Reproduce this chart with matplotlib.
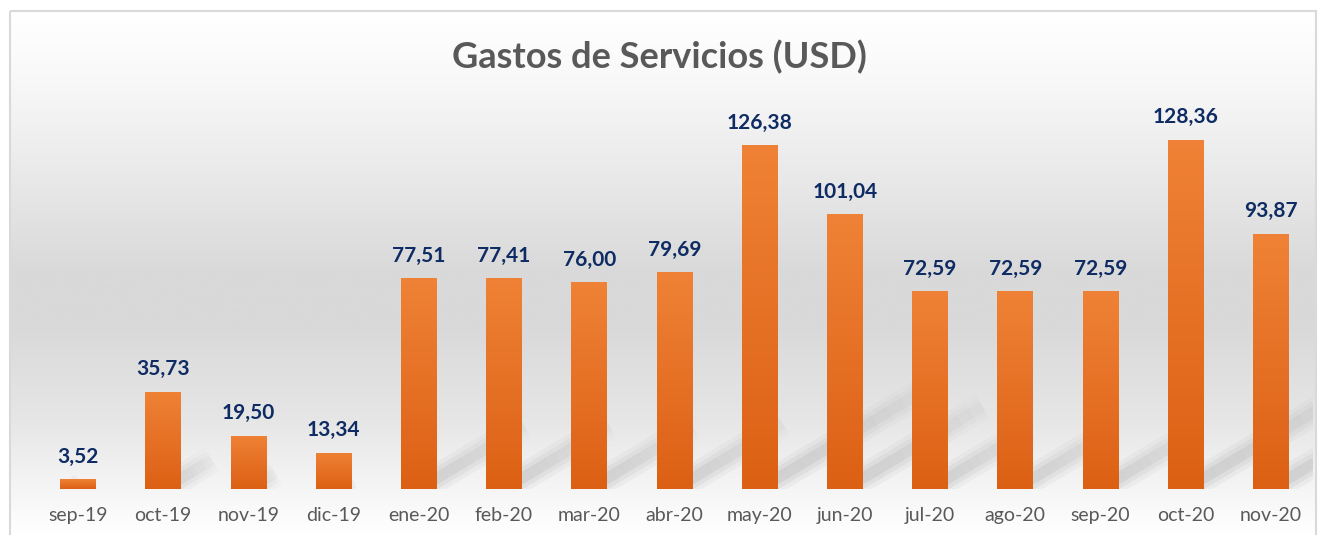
import numpy as np
import matplotlib.pyplot as plt
from matplotlib.colors import LinearSegmentedColormap
from matplotlib.patches import Rectangle

months = ['sep-19', 'oct-19', 'nov-19', 'dic-19', 'ene-20', 'feb-20', 'mar-20', 'abr-20',
          'may-20', 'jun-20', 'jul-20', 'ago-20', 'sep-20', 'oct-20', 'nov-20']
gastos = [3.52, 35.73, 19.50, 13.34, 77.51, 77.41, 76.00, 79.69,
          126.38, 101.04, 72.59, 72.59, 72.59, 128.36, 93.87]

W, H = 1325, 535
plt.rcParams['font.family'] = ['Lato', 'DejaVu Sans']

fig = plt.figure(figsize=(W / 100, H / 100), dpi=100)

# background: chart frame with vertical grey gradient
bg = fig.add_axes([0, 0, 1, 1])
bg.set_xlim(0, W)
bg.set_ylim(H, 0)
bg.axis('off')
stops = [(0.0, '#ffffff'), (0.12, '#f9f9f9'), (0.28, '#ececec'), (0.5, '#d9d9d9'),
         (0.6, '#d9d9d9'), (0.78, '#e6e6e6'), (0.92, '#f6f6f6'), (1.0, '#ffffff')]
bg_cmap = LinearSegmentedColormap.from_list('bg', stops)
grad = np.linspace(0, 1, 256).reshape(-1, 1)
bg.imshow(grad, cmap=bg_cmap, aspect='auto', extent=(10, 1316, H, 11), zorder=0)
bg.add_patch(Rectangle((10, 11), 1306, H, fill=False, edgecolor='#d9d9d9', linewidth=1.5, zorder=1))

fig.text(0.498, 1 - 57 / H, 'Gastos de Servicios (USD)', ha='center', va='center',
         fontsize=26, fontweight='bold', color='#595959')

ax = fig.add_axes([35.4 / W, 46 / H, 1278 / W, 381 / H])
ax.patch.set_alpha(0)
x = np.arange(len(months))
bars = ax.bar(x, gastos, width=0.42, color='#ED7D31', zorder=3)
ax.set_xlim(-0.5, len(months) - 0.5)
ax.set_ylim(0, 140)

# soft diagonal shadow behind each bar, fading with distance
nseg = 12
for b in bars:
    h = b.get_height()
    xc = b.get_x() + b.get_width() / 2
    dx, dy = 0.016 * h, 0.3 * h
    for i in range(nseg):
        t0, t1 = i / nseg, (i + 1) / nseg
        fade = (1 - t0) ** 0.6
        for lw, a in [(20, 0.07), (14, 0.09), (8, 0.12)]:
            ax.plot([xc + dx * t0, xc + dx * t1], [dy * t0, dy * t1], color='#6f6f6f',
                    lw=lw, alpha=a * fade, solid_capstyle='butt', zorder=2)

# orange gradient inside each bar
bar_cmap = LinearSegmentedColormap.from_list('bar', ['#DC6014', '#EF8236'])
for b in bars:
    im = ax.imshow(grad, cmap=bar_cmap, aspect='auto', origin='lower',
                   extent=(b.get_x(), b.get_x() + b.get_width(), 0, b.get_height()), zorder=4)
    im.set_clip_path(b)

for xi, v in zip(x, gastos):
    ax.annotate('{:.2f}'.format(v).replace('.', ','), (xi, v), xytext=(0, 9),
                textcoords='offset points', ha='center', va='bottom',
                fontsize=15, fontweight='bold', color='#0E2B63', zorder=5)

ax.set_xticks(x)
ax.set_xticklabels(months, fontsize=14, color='#595959')
ax.tick_params(axis='x', length=0, pad=13)
ax.set_yticks([])
for s in ax.spines.values():
    s.set_visible(False)

fig.savefig('out.png', dpi=100)
